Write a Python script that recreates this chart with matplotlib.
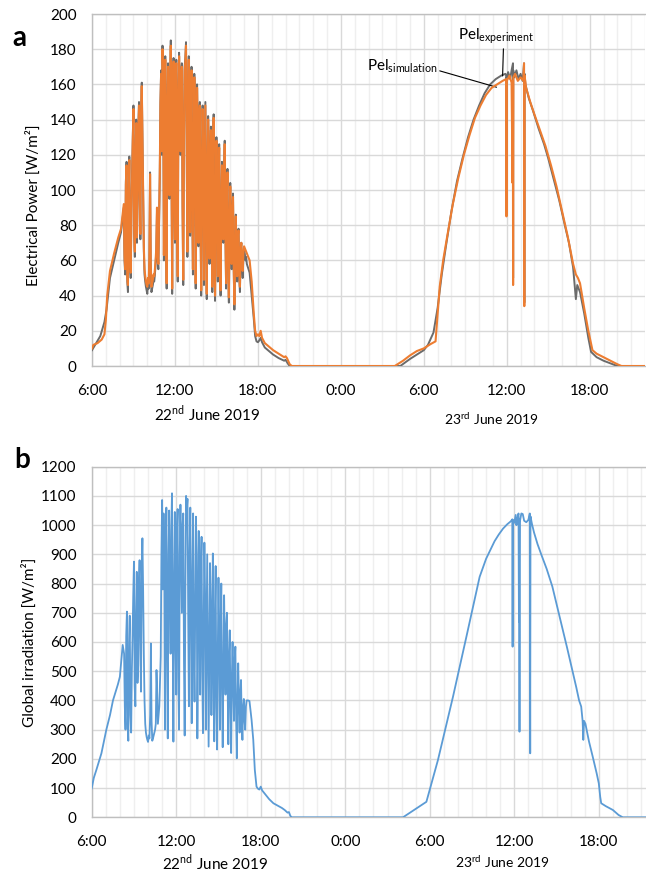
import numpy as np
import matplotlib
matplotlib.use("Agg")
import matplotlib.pyplot as plt
from matplotlib.transforms import blended_transform_factory

plt.rcParams['font.family'] = ['Lato', 'DejaVu Sans']

# ---------------- data (hours since 6:00 on 22 June 2019) ----------------
noisy_t0, noisy_dt = 2.3, 0.05   # sampling of the fluctuating part of day 1

# Panel a: experiment (gray)
exp_t_start = [0.0, 0.3, 0.6, 0.9, 1.05, 1.3, 1.6, 1.9, 2.1]
exp_p_start = [9, 13, 17, 25, 32, 50, 60, 70, 76]
exp_p_noisy = [90, 60, 52, 105, 116, 48, 42, 95, 119, 58,
               50, 88, 110, 130, 148, 75, 62, 120, 140, 70,
               95, 135, 150, 100, 72, 145, 161, 130, 98, 65,
               52, 48, 45, 43, 41, 47, 44, 60, 110, 55,
               42, 44, 46, 49, 48, 52, 58, 65, 88, 60,
               55, 80, 106, 150, 168, 120, 182, 165, 60, 140,
               176, 90, 44, 150, 172, 130, 95, 160, 185, 110,
               41, 140, 175, 100, 70, 165, 174, 80, 48, 155,
               178, 150, 120, 168, 172, 90, 46, 130, 170, 175,
               184, 120, 62, 150, 176, 110, 74, 140, 170, 95,
               52, 120, 166, 150, 44, 90, 160, 130, 68, 145,
               150, 80, 40, 110, 148, 125, 46, 100, 150, 90,
               38, 95, 142, 120, 58, 110, 136, 80, 42, 120,
               143, 60, 37, 95, 130, 100, 48, 110, 126, 70,
               40, 85, 116, 90, 70, 110, 128, 75, 44, 95,
               112, 60, 36, 80, 104, 75, 55, 90, 98, 55,
               32, 60, 86, 65, 48, 75, 78, 50, 42, 65,
               70, 55, 50, 62, 66, 64, 60, 62, 58]
exp_t_rest = [11.4, 11.55, 11.7, 11.8, 11.9, 12.0, 12.1, 12.2, 12.3, 12.5, 12.8, 13.1,
              13.5, 13.9, 14.0, 14.2, 14.3, 22.3, 23.0, 23.6, 24.0, 24.3, 24.7, 25.0,
              25.3, 25.6, 26.0, 26.4, 26.8, 27.2, 27.6, 28.0, 28.4, 28.8, 29.2, 29.6,
              29.9, 29.96, 29.98, 30.0, 30.1, 30.25, 30.35, 30.45, 30.46, 30.47, 30.55,
              30.7, 30.85, 31.0, 31.15, 31.25, 31.27, 31.29, 31.35, 31.6, 31.9, 32.3,
              32.7, 33.0, 33.4, 33.8, 34.2, 34.5, 34.8, 35.0, 35.1, 35.3, 35.6, 35.9,
              36.1, 36.5, 37.0, 37.5, 38.0, 40.0]
exp_p_rest = [53, 40, 27, 17, 14, 13.5, 14.5, 16, 13.5, 10.5, 8.5, 6.5,
              4.5, 3, 3.5, 1, 0, 0, 4, 7, 9, 12, 19, 33,
              52, 68, 88, 105, 118, 130, 140, 148, 155, 160, 163, 165,
              166, 165, 88, 164, 167, 163, 168, 172, 50, 168, 164,
              168, 163, 166, 162, 172, 36, 166, 160, 152, 145, 135,
              126, 118, 106, 94, 80, 70, 56, 38, 46, 42, 30, 16,
              8, 5, 3, 1.5, 0, 0]

# Panel a: simulation (orange)
sim_t_start = [0.0, 0.1, 0.4, 0.7, 0.9, 1.0, 1.1, 1.3, 1.6, 1.9, 2.1]
sim_p_start = [10, 12, 13, 15, 18, 26, 40, 54, 64, 73, 78]
sim_p_noisy = [92, 63, 55, 103, 114, 51, 46, 93, 117, 61,
               53, 86, 108, 128, 146, 78, 65, 118, 138, 73,
               97, 133, 148, 102, 75, 143, 159, 128, 100, 68,
               55, 51, 48, 46, 45, 50, 47, 62, 109, 58,
               45, 47, 49, 52, 51, 55, 60, 67, 90, 63,
               58, 82, 108, 148, 166, 122, 180, 163, 63, 138,
               174, 92, 47, 148, 170, 128, 97, 158, 182, 112,
               44, 138, 173, 102, 72, 163, 172, 82, 51, 153,
               176, 148, 122, 166, 170, 92, 49, 128, 168, 173,
               182, 122, 65, 148, 174, 112, 76, 138, 168, 97,
               55, 118, 164, 148, 47, 92, 158, 128, 70, 143,
               148, 82, 43, 108, 146, 123, 49, 102, 148, 92,
               41, 97, 140, 118, 61, 108, 134, 82, 45, 118,
               141, 62, 40, 93, 128, 98, 51, 108, 124, 72,
               43, 87, 114, 88, 72, 108, 126, 77, 47, 93,
               110, 62, 39, 78, 102, 74, 58, 88, 96, 57,
               35, 62, 85, 64, 51, 74, 77, 53, 45, 66,
               70, 58, 54, 64, 68, 67, 66, 65, 64]
sim_t_rest = [11.4, 11.55, 11.7, 11.8, 11.9, 12.0, 12.1, 12.2, 12.3, 12.5, 12.8, 13.1,
              13.5, 13.9, 14.0, 14.1, 14.3, 14.45, 21.9, 22.5, 23.0, 23.5, 24.0, 24.5,
              24.85, 25.15, 25.4, 25.7, 26.1, 26.5, 26.9, 27.3, 27.7, 28.1, 28.5, 28.9,
              29.3, 29.7, 29.95, 29.98, 30.0, 30.2, 30.35, 30.42, 30.44, 30.46, 30.48,
              30.6, 30.8, 31.0, 31.2, 31.25, 31.27, 31.29, 31.4, 31.7, 32.0, 32.4, 32.8,
              33.2, 33.6, 34.0, 34.4, 34.8, 35.0, 35.15, 35.3, 35.6, 35.9, 36.2, 36.5,
              37.0, 37.5, 38.0, 38.3, 40.0]
sim_p_rest = [60, 48, 30, 20, 17, 18, 17, 20, 16, 13, 11, 9,
              7, 5, 5.5, 4.5, 1, 0, 0, 3, 6, 8.5, 10, 12.5,
              14, 45, 60, 74, 92, 107, 120, 131, 141, 148, 154, 158,
              160, 162, 163, 85, 162, 165, 161, 104, 162, 46, 164,
              166, 162, 164, 162, 172, 34, 165, 158, 150, 143, 134, 125,
              114, 102, 88, 74, 58, 52, 50, 47, 33, 20, 9, 7,
              5, 3, 1, 0, 0]

# Panel b: global irradiation (blue)
irr_t_start = [0.0, 0.15, 0.33, 0.69, 1.04, 1.3, 1.51, 1.86, 2.0, 2.2]
irr_g_start = [99, 135, 162, 219, 300, 350, 400, 455, 481, 590]
irr_g_noisy = [560, 380, 300, 620, 704, 320, 262, 600, 690, 350,
               290, 500, 620, 760, 875, 450, 380, 700, 840, 460,
               520, 800, 880, 600, 430, 850, 955, 780, 560, 400,
               320, 290, 275, 265, 258, 280, 270, 350, 595, 330,
               262, 270, 280, 290, 300, 320, 504, 420, 320, 350,
               380, 470, 550, 900, 1086, 780, 1040, 900, 300, 820,
               1060, 550, 270, 900, 1050, 760, 560, 980, 1109, 640,
               259, 800, 1045, 600, 420, 980, 1055, 480, 300, 900,
               1070, 880, 700, 1000, 1040, 540, 280, 780, 1100, 1050,
               1090, 700, 380, 900, 1060, 640, 322, 820, 1040, 560,
               396, 720, 1029, 900, 270, 560, 980, 800, 420, 860,
               960, 500, 288, 660, 940, 760, 300, 620, 900, 560,
               242, 560, 870, 700, 350, 660, 903, 480, 260, 700,
               860, 380, 232, 560, 820, 600, 300, 660, 800, 430,
               240, 520, 760, 560, 420, 660, 700, 450, 250, 560,
               640, 380, 220, 480, 600, 450, 330, 540, 584, 350,
               202, 380, 527, 400, 290, 420, 470, 330, 265, 380,
               405, 330, 300, 380, 400]
irr_t_rest = [11.1, 11.2, 11.35, 11.47, 11.58, 11.7, 11.8, 11.9, 12.0, 12.1, 12.3,
              12.6, 12.9, 13.2, 13.5, 13.7, 13.9, 14.0, 14.1, 14.2, 22.1, 23.76,
              24.58, 25.65, 26.6, 27.54, 28.0, 28.3, 28.6, 28.9, 29.2, 29.5, 29.75,
              29.86, 29.88, 29.9, 30.0, 30.1, 30.15, 30.2, 30.3, 30.33, 30.35, 30.37,
              30.39, 30.5, 30.6, 30.7, 30.85, 31.0, 31.1, 31.13, 31.15, 31.25, 31.4,
              31.65, 31.95, 32.3, 32.7, 33.05, 33.4, 33.75, 34.1, 34.4, 34.6, 34.75,
              34.85, 34.9, 34.95, 35.05, 35.3, 35.57, 35.85, 36.0, 36.1, 36.17, 36.5,
              37.0, 37.4, 37.7, 39.35]
irr_g_rest = [400, 398, 333, 265, 162, 105, 98, 95, 105, 92, 80,
              62, 48, 40, 32, 25, 16, 18, 5, 0, 0, 53,
              196, 413, 618, 823, 885, 915, 945, 968, 988, 1003, 1013,
              1020, 584, 1018, 1008, 1035, 1000, 1018, 1040, 670, 1020, 293,
              1010, 1040, 1038, 1015, 1010, 1018, 1040, 219, 1030, 1005, 975,
              935, 895, 850, 790, 720, 650, 580, 508, 445, 400, 379,
              330, 265, 330, 320, 260, 207, 150, 116, 70, 48, 38,
              25, 8, 0, 0]

tick_pos = [0, 6, 12, 18, 24, 30, 36]
tick_labels = ['6:00', '12:00', '18:00', '0:00', '6:00', '12:00', '18:00']

# ---------------- assemble series ----------------
def series(t_start, v_start, v_noisy, t_rest, v_rest):
    t_noisy = noisy_t0 + noisy_dt * np.arange(len(v_noisy))
    t = np.concatenate([t_start, t_noisy, t_rest])
    v = np.concatenate([v_start, v_noisy, v_rest])
    return t, v

t_exp, p_exp = series(exp_t_start, exp_p_start, exp_p_noisy, exp_t_rest, exp_p_rest)
t_sim, p_sim = series(sim_t_start, sim_p_start, sim_p_noisy, sim_t_rest, sim_p_rest)
t_irr, g_irr = series(irr_t_start, irr_g_start, irr_g_noisy, irr_t_rest, irr_g_rest)

# ---------------- figure ----------------
fig = plt.figure(figsize=(6.46, 8.73), dpi=100)
ax1 = fig.add_axes([92/646, 1-366/873, 553/646, 352/873])
ax2 = fig.add_axes([91.7/646, 1-817.3/873, 554.3/646, 350.6/873])

GRID = '#d9d9d9'
MINOR = '#efefef'
FS = 11

def style(ax, xmax, ymax, ystep, xpad):
    ax.set_xlim(0, xmax)
    ax.set_ylim(0, ymax)
    ax.set_xticks(tick_pos)
    ax.set_xticklabels(tick_labels)
    ax.set_xticks(np.arange(0, xmax + 0.01, 1), minor=True)
    ax.set_yticks(np.arange(0, ymax + 1, ystep))
    ax.grid(True, which='major', axis='both', color=GRID, lw=1.0, zorder=0)
    ax.grid(True, which='minor', axis='x', color=MINOR, lw=1.0, zorder=0)
    ax.set_axisbelow(True)
    ax.tick_params(which='both', length=0, labelsize=FS)
    ax.tick_params(axis='x', pad=xpad)
    ax.tick_params(axis='y', pad=11)
    for s in ['left', 'bottom', 'top']:
        ax.spines[s].set_color('#bfbfbf')
        ax.spines[s].set_linewidth(1.0)
    ax.spines['right'].set_visible(False)

style(ax1, 40, 200, 20, 13)
style(ax2, 39.35, 1200, 100, 13)

ax1.plot(t_exp, p_exp, color='#6b6b6b', lw=1.4, zorder=3)
ax1.plot(t_sim, p_sim, color='#ED7D31', lw=1.5, zorder=4)
ax2.plot(t_irr, g_irr, color='#5B9BD5', lw=1.3, zorder=3)

ax1.set_ylabel('Electrical Power [W/m²]', fontsize=FS)
ax1.yaxis.set_label_coords(-0.092, 0.456)
ax2.set_ylabel('Global irradiation [W/m²]', fontsize=FS)
ax2.yaxis.set_label_coords(-0.099, 0.5)

# date labels
tr1 = blended_transform_factory(ax1.transData, ax1.transAxes)
tr2 = blended_transform_factory(ax2.transData, ax2.transAxes)
ax1.text(8.3, -0.136, '22$^{\\mathregular{nd}}$ June 2019', transform=tr1,
         ha='center', va='center', fontsize=FS)
ax1.text(28.85, -0.150, '23$^{\\mathregular{rd}}$ June 2019', transform=tr1,
         ha='center', va='center', fontsize=10)
ax2.text(8.74, -0.130, '22$^{\\mathregular{nd}}$ June 2019', transform=tr2,
         ha='center', va='center', fontsize=FS)
ax2.text(29.18, -0.127, '23$^{\\mathregular{rd}}$ June 2019', transform=tr2,
         ha='center', va='center', fontsize=10)

# annotations
ax1.annotate('Pel$_{\\mathregular{experiment}}$', xy=(29.7, 164.8), xytext=(26.46, 185.6),
             fontsize=FS, ha='left', va='baseline',
             arrowprops=dict(arrowstyle='-', color='black', lw=0.8,
                             shrinkA=0, shrinkB=0, relpos=(0.6, 0.0)))
ax1.annotate('Pel$_{\\mathregular{simulation}}$', xy=(29.26, 158.4), xytext=(19.86, 167.8),
             fontsize=FS, ha='left', va='baseline',
             arrowprops=dict(arrowstyle='-', color='black', lw=0.8,
                             shrinkA=0, shrinkB=0, relpos=(1.0, 0.3)))

fig.text(19.5/646, 1-38/873, 'a', fontsize=20, fontweight='bold', ha='center', va='center')
fig.text(22.5/646, 1-460/873, 'b', fontsize=20, fontweight='bold', ha='center', va='center')

fig.savefig('out.png', dpi=100)
